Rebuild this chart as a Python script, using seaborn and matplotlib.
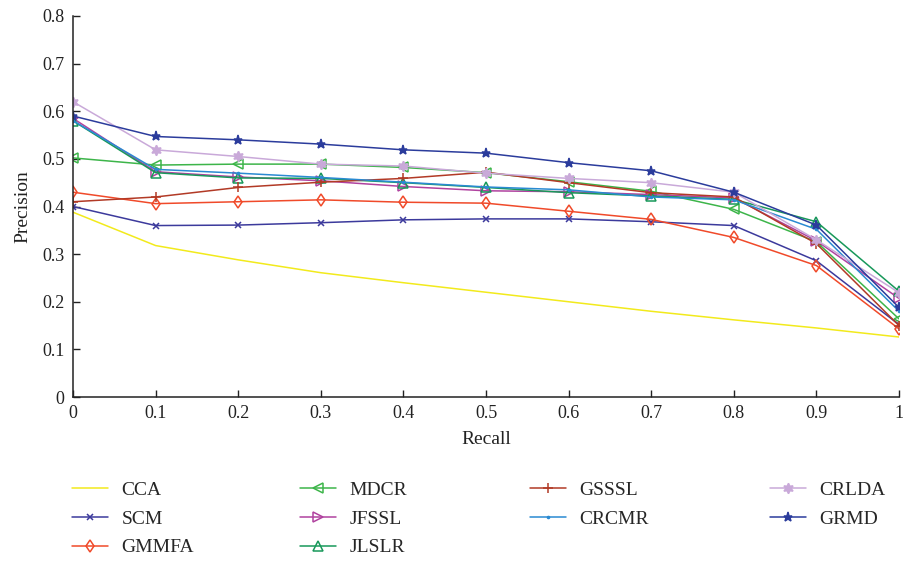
import matplotlib
matplotlib.use("Agg")
import matplotlib.pyplot as plt
import seaborn as sns
import pandas as pd

recall = [0.0, 0.1, 0.2, 0.3, 0.4, 0.5, 0.6, 0.7, 0.8, 0.9, 1.0]

cca   = [0.388, 0.318, 0.288, 0.261, 0.240, 0.220, 0.200, 0.180, 0.162, 0.145, 0.126]
scm   = [0.400, 0.360, 0.361, 0.366, 0.372, 0.374, 0.374, 0.368, 0.360, 0.286, 0.152]
gmmfa = [0.430, 0.406, 0.410, 0.414, 0.409, 0.407, 0.390, 0.373, 0.335, 0.276, 0.143]
mdcr  = [0.502, 0.487, 0.489, 0.489, 0.482, 0.471, 0.452, 0.432, 0.394, 0.326, 0.164]
jfssl = [0.585, 0.473, 0.462, 0.454, 0.442, 0.433, 0.431, 0.425, 0.418, 0.328, 0.207]
jlslr = [0.580, 0.471, 0.460, 0.459, 0.450, 0.440, 0.429, 0.422, 0.415, 0.368, 0.222]
gsssl = [0.410, 0.420, 0.440, 0.451, 0.459, 0.472, 0.450, 0.429, 0.420, 0.322, 0.150]
crcmr = [0.580, 0.478, 0.470, 0.461, 0.451, 0.441, 0.435, 0.420, 0.414, 0.352, 0.180]
crlda = [0.620, 0.519, 0.505, 0.489, 0.485, 0.470, 0.459, 0.450, 0.430, 0.330, 0.219]
grmd  = [0.590, 0.547, 0.540, 0.531, 0.519, 0.512, 0.492, 0.475, 0.430, 0.361, 0.188]

methods = ["CCA", "SCM", "GMMFA", "MDCR", "JFSSL", "JLSLR",
           "GSSSL", "CRCMR", "CRLDA", "GRMD"]
values = [cca, scm, gmmfa, mdcr, jfssl, jlslr, gsssl, crcmr, crlda, grmd]

x_ticks = [0, 0.1, 0.2, 0.3, 0.4, 0.5, 0.6, 0.7, 0.8, 0.9, 1]
x_tick_labels = ["0", "0.1", "0.2", "0.3", "0.4", "0.5", "0.6", "0.7", "0.8", "0.9", "1"]
y_ticks = [0, 0.1, 0.2, 0.3, 0.4, 0.5, 0.6, 0.7, 0.8]
y_tick_labels = ["0", "0.1", "0.2", "0.3", "0.4", "0.5", "0.6", "0.7", "0.8"]

colors = {
    "CCA": "#f2ea1c", "SCM": "#3c3a9c", "GMMFA": "#f04a2a", "MDCR": "#3db54a",
    "JFSSL": "#b0429f", "JLSLR": "#18985a", "GSSSL": "#b23a26", "CRCMR": "#2a8ad2",
    "CRLDA": "#c9a9d9", "GRMD": "#2b3c9c",
}
# marker, marker size, filled
markers = {
    "CCA": (None, 0, True),
    "SCM": ("x", 4, True),
    "GMMFA": ("d", 6.5, False),
    "MDCR": ("<", 6.5, False),
    "JFSSL": (">", 6.5, False),
    "JLSLR": ("^", 6.5, False),
    "GSSSL": ("+", 6.5, True),
    "CRCMR": (".", 3, True),
    "CRLDA": ((6, 1, 0), 7.5, True),
    "GRMD": ("*", 6.5, True),
}

df = pd.DataFrame({
    "Recall": recall * len(methods),
    "Precision": sum(values, []),
    "Method": sum([[m] * len(recall) for m in methods], []),
})

sns.set_theme(style="ticks")
plt.rcParams["font.family"] = ["Liberation Serif", "DejaVu Serif"]

W, H = 906, 561
fig = plt.figure(figsize=(W / 100, H / 100), dpi=100)
ax = fig.add_axes([0.0806, 0.2923, 0.9117, 0.6792])

for m in methods:
    sub = df[df["Method"] == m]
    mk, ms, filled = markers[m]
    c = colors[m]
    kw = dict(marker=mk, markersize=ms, markeredgecolor=c, markeredgewidth=1.1,
              markerfacecolor=(c if filled else "none"))
    if mk is None:
        kw = {}
    sns.lineplot(data=sub, x="Recall", y="Precision", ax=ax, color=c,
                 linewidth=1.1, label=m, estimator=None, sort=False,
                 legend=True, **kw)

ax.set_xlim(0, 1)
ax.set_ylim(0, 0.8)
ax.set_xticks(x_ticks)
ax.set_xticklabels(x_tick_labels)
ax.set_yticks(y_ticks)
ax.set_yticklabels(y_tick_labels)
ax.tick_params(direction="in", length=5, width=1, labelsize=13, colors="#222222",
               pad=6)
for s in ["top", "right"]:
    ax.spines[s].set_visible(False)
for s in ["left", "bottom"]:
    ax.spines[s].set_linewidth(1.1)
    ax.spines[s].set_color("#222222")

ax.set_xlabel("Recall", fontsize=14, color="#222222", labelpad=6)
ax.set_ylabel("Precision", fontsize=14, color="#222222", labelpad=8)

# Legend laid out as four columns below the axes
handles, labels = ax.get_legend_handles_labels()
ax.get_legend().remove()
groups = [[0, 1, 2], [3, 4, 5], [6, 7], [8, 9]]
col_x = [72, 300, 530, 770]
for grp, x0 in zip(groups, col_x):
    leg = fig.legend([handles[i] for i in grp], [labels[i] for i in grp],
                     loc="upper left", bbox_to_anchor=(x0 / W, 1 - 481 / H),
                     bbox_transform=fig.transFigure, frameon=False, fontsize=14,
                     handlelength=1.85, handletextpad=0.7, labelspacing=0.58,
                     borderpad=0, borderaxespad=0)

fig.savefig("out.png", dpi=100)
